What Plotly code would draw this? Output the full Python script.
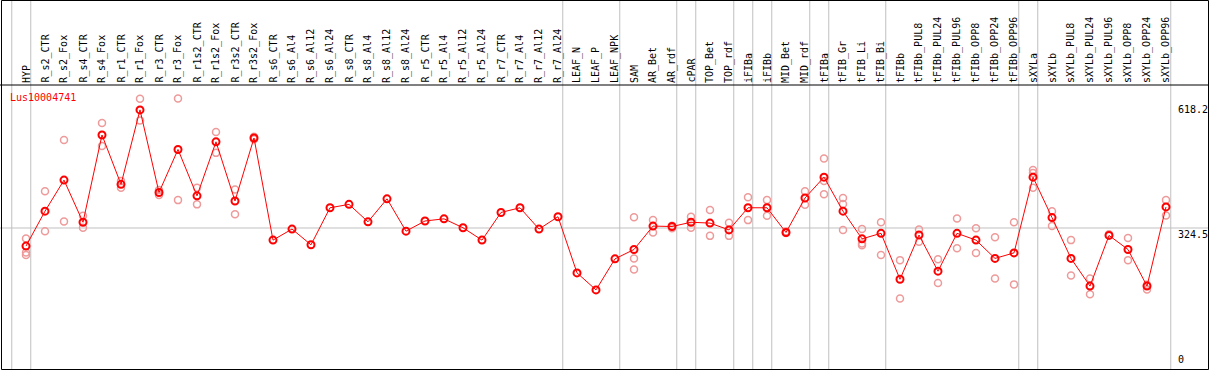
import plotly.graph_objects as go

categories = [
    "HYP", "R_s2_CTR", "R_s2_Fox", "R_s4_CTR", "R_s4_Fox", "R_r1_CTR", "R_r1_Fox",
    "R_r3_CTR", "R_r3_Fox", "R_r1s2_CTR", "R_r1s2_Fox", "R_r3s2_CTR", "R_r3s2_Fox",
    "R_s6_CTR", "R_s6_Al4", "R_s6_Al12", "R_s6_Al24", "R_s8_CTR", "R_s8_Al4",
    "R_s8_Al12", "R_s8_Al24", "R_r5_CTR", "R_r5_Al4", "R_r5_Al12", "R_r5_Al24",
    "R_r7_CTR", "R_r7_Al4", "R_r7_Al12", "R_r7_Al24", "LEAF_N", "LEAF_P", "LEAF_NPK",
    "SAM", "AR_Bet", "AR_rdf", "cPAR", "TOP_Bet", "TOP_rdf", "iFIBa", "iFIBb",
    "MID_Bet", "MID_rdf", "tFIBa", "tFIB_Gr", "tFIB_Li", "tFIB_Bi", "tFIBb",
    "tFIBb_PUL8", "tFIBb_PUL24", "tFIBb_PUL96", "tFIBb_OPP8", "tFIBb_OPP24",
    "tFIBb_OPP96", "sXYLa", "sXYLb", "sXYLb_PUL8", "sXYLb_PUL24", "sXYLb_PUL96",
    "sXYLb_OPP8", "sXYLb_OPP24", "sXYLb_OPP96",
]

means = [
    282, 364, 437, 338, 543, 427, 602, 408, 509, 400, 527, 388, 536,
    296, 322, 285, 372, 380, 339, 393, 317, 341, 346, 325, 296, 361, 372, 322, 351,
    219, 179, 252, 274, 329, 328, 338, 336, 320, 372, 372, 314, 395, 444, 364, 299,
    312, 204, 308, 223, 312, 296, 253, 266, 444, 349, 253, 188, 307, 274, 188, 374,
]

replicates = [
    [300, 267, 261], [411, 317], [531, 340], [353, 325], [571, 517], [435, 419],
    [628, 577], [414, 402], [629, 390], [419, 380], [550, 501], [415, 357], [539, 533],
    [], [], [], [], [], [], [], [], [], [], [], [], [], [], [], [], [], [], [],
    [350, 253, 227], [343, 314], [324, 330], [351, 325], [367, 306], [337, 306],
    [397, 343], [390, 353], [313, 316], [411, 379], [488, 404, 435], [395, 381, 320],
    [322, 284, 288], [338, 261], [249, 159], [321, 292], [251, 195], [347, 277],
    [324, 266], [303, 206], [338, 192], [461, 454, 419], [364, 329], [296, 213],
    [206, 169], [310], [301, 249], [191, 180], [390, 354],
]

# last category of each group ("" = leading boundary)
group_ends = ["", "HYP", "R_r7_Al24", "LEAF_NPK", "AR_rdf", "cPAR", "TOP_rdf", "iFIBa",
              "iFIBb", "MID_rdf", "tFIBa", "tFIB_Bi", "tFIBb_OPP96", "sXYLa", "sXYLb_OPP96"]

gene = "Lus10004741"
ytick_vals = [618.2, 324.5, 0]
ytick_text = ["618.2", "324.5", "0"]
ref_line = 324.5

W, H = 1209, 370
FONT = "DejaVu Sans Mono"

idx = {c: i + 1 for i, c in enumerate(categories)}
xs = [idx[c] for c in categories]

rep_x, rep_y = [], []
for c, reps in zip(categories, replicates):
    for v in reps:
        rep_x.append(idx[c])
        rep_y.append(v)

# pixel mappings
px_per_cat = 19.0
x0 = 1 - 26 / px_per_cat
x1 = x0 + W / px_per_cat
y_scale = 0.4256
y_zero_px = 366.1
y_lo = (y_zero_px - H) / y_scale
y_hi = y_zero_px / y_scale

fig = go.Figure()
fig.add_trace(go.Scatter(
    x=rep_x, y=rep_y, mode="markers",
    marker=dict(symbol="circle-open", size=7, color="#ee9a9a", line=dict(width=1.5, color="#ee9a9a")),
    hoverinfo="skip", showlegend=False,
))
fig.add_trace(go.Scatter(
    x=xs, y=means, mode="lines+markers",
    line=dict(color="#ff0000", width=1),
    marker=dict(symbol="circle-open", size=7, color="#ff0000", line=dict(width=2, color="#ff0000")),
    showlegend=False,
))

shapes = []
for g in group_ends:
    gx = (idx[g] if g else 0) + 0.25
    shapes.append(dict(type="line", xref="x", yref="paper", x0=gx, x1=gx, y0=0, y1=1,
                       line=dict(color="#c0c0c0", width=1), layer="below"))
shapes.append(dict(type="line", xref="paper", yref="y", x0=0, x1=1, y0=ref_line, y1=ref_line,
                   line=dict(color="#c0c0c0", width=1), layer="below"))
# frame
shapes.append(dict(type="rect", xref="paper", yref="paper",
                   x0=1.5 / W, x1=1208.5 / W, y0=0.5 / H, y1=1 - 0.5 / H,
                   line=dict(color="black", width=1)))
shapes.append(dict(type="line", xref="paper", yref="paper", x0=0, x1=1,
                   y0=(H - 85) / H, y1=(H - 85) / H, line=dict(color="black", width=1)))

annotations = []
for c in categories:
    annotations.append(dict(x=idx[c], xref="x", y=(H - 84) / H, yref="paper",
                            text=c, textangle=-90, showarrow=False,
                            xanchor="center", yanchor="bottom", borderpad=0,
                            font=dict(family=FONT, size=10, color="black")))
annotations.append(dict(x=9 / W, xref="paper", y=(H - 97.5) / H, yref="paper", text=gene,
                        showarrow=False, xanchor="left", yanchor="middle", borderpad=0,
                        font=dict(family=FONT, size=10, color="#ff0000")))
for v, t in zip(ytick_vals, ytick_text):
    annotations.append(dict(x=1177 / W, xref="paper", y=v, yref="y", text=t,
                            showarrow=False, xanchor="left",
                            yanchor="bottom" if v == 0 else "top", borderpad=0,
                            font=dict(family=FONT, size=10, color="black")))

fig.update_layout(
    width=W, height=H, margin=dict(l=0, r=0, t=0, b=0),
    paper_bgcolor="white", plot_bgcolor="white",
    xaxis=dict(range=[x0, x1], visible=False, fixedrange=True),
    yaxis=dict(range=[y_lo, y_hi], visible=False, fixedrange=True),
    shapes=shapes, annotations=annotations,
)

fig.write_html(
    "out.html",
    config={"displayModeBar": False},
    post_script="document.body.style.margin='0';document.body.style.overflow='hidden';",
)
